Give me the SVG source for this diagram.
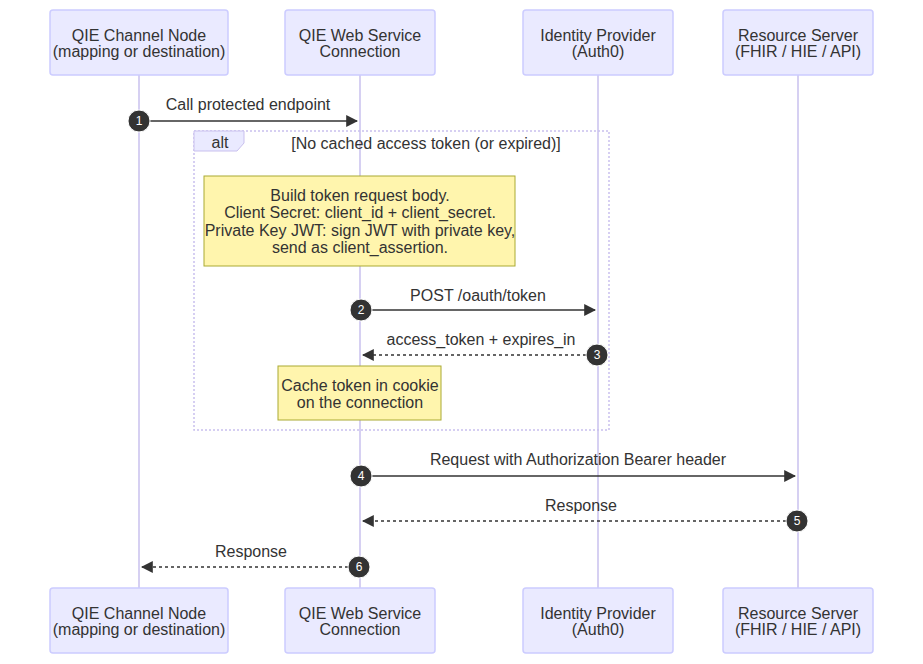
<svg xmlns="http://www.w3.org/2000/svg" width="923" height="664" viewBox="0 0 923 664">
<defs>
<style>
text{font-family:"Liberation Sans",Arial,sans-serif;font-size:16px;fill:#333;text-anchor:middle}
.actor{fill:#eaeaff;stroke:#ccccff;stroke-width:1.5}
.life{stroke:#c9c0ee;stroke-width:1.5}
.msg{stroke:#333;stroke-width:1.5;fill:none}
.dash{stroke-dasharray:3,3}
.note{fill:#fff5ad;stroke:#aaaa33;stroke-width:1}
.num{fill:#333;stroke:#fff;stroke-width:1}
.numt{fill:#fff;font-size:12px}
</style>
<marker id="ah" viewBox="0 0 10 10" refX="9" refY="5" markerWidth="8" markerHeight="8" orient="auto"><path d="M0,0L10,5L0,10z" fill="#333"/></marker>
</defs>
<rect width="923" height="664" fill="#fff"/>
<g id="lifelines">
<line class="life" x1="139" y1="75" x2="139" y2="588"/>
<line class="life" x1="360" y1="75" x2="360" y2="588"/>
<line class="life" x1="598" y1="75" x2="598" y2="588"/>
<line class="life" x1="798" y1="75" x2="798" y2="588"/>
</g>
<g id="actor-qie-top"><rect class="actor" x="50" y="10" width="178" height="65" rx="3"/><text x="139" y="41">QIE Channel Node</text><text x="139" y="57">(mapping or destination)</text></g>
<g id="actor-ws-top"><rect class="actor" x="285" y="10" width="150" height="65" rx="3"/><text x="360" y="41">QIE Web Service</text><text x="360" y="57">Connection</text></g>
<g id="actor-idp-top"><rect class="actor" x="523" y="10" width="150" height="65" rx="3"/><text x="598" y="41">Identity Provider</text><text x="598" y="57">(Auth0)</text></g>
<g id="actor-rs-top"><rect class="actor" x="723" y="10" width="150" height="65" rx="3"/><text x="798" y="41">Resource Server</text><text x="798" y="57">(FHIR / HIE / API)</text></g>
<g id="actor-qie-bottom"><rect class="actor" x="50" y="588" width="178" height="65" rx="3"/><text x="139" y="619">QIE Channel Node</text><text x="139" y="635">(mapping or destination)</text></g>
<g id="actor-ws-bottom"><rect class="actor" x="285" y="588" width="150" height="65" rx="3"/><text x="360" y="619">QIE Web Service</text><text x="360" y="635">Connection</text></g>
<g id="actor-idp-bottom"><rect class="actor" x="523" y="588" width="150" height="65" rx="3"/><text x="598" y="619">Identity Provider</text><text x="598" y="635">(Auth0)</text></g>
<g id="actor-rs-bottom"><rect class="actor" x="723" y="588" width="150" height="65" rx="3"/><text x="798" y="619">Resource Server</text><text x="798" y="635">(FHIR / HIE / API)</text></g>
<g id="alt">
<rect x="194" y="131" width="415" height="299" fill="none" stroke="#c9c0ee" stroke-width="1.5" stroke-dasharray="2,2"/>
<path d="M194,131H244V143L237,151H194z" fill="#eaeaff" stroke="#c9c0ee"/>
<text x="220" y="148">alt</text>
<text x="426" y="149">[No cached access token (or expired)]</text>
</g>
<g id="note1"><rect class="note" x="204" y="176" width="311" height="90"/>
<text x="360" y="201">Build token request body.</text><text x="360" y="218">Client Secret: client_id + client_secret.</text><text x="360" y="236">Private Key JWT: sign JWT with private key,</text><text x="360" y="253">send as client_assertion.</text></g>
<g id="note2"><rect class="note" x="278" y="366" width="163" height="54"/>
<text x="360" y="391">Cache token in cookie</text><text x="360" y="408">on the connection</text></g>
<g id="connectors">
<line class="msg" x1="139" y1="121" x2="357" y2="121" marker-end="url(#ah)"/>
<text x="248" y="110">Call protected endpoint</text>
<line class="msg" x1="360" y1="310" x2="595" y2="310" marker-end="url(#ah)"/>
<text x="478" y="301">POST /oauth/token</text>
<line class="msg dash" x1="598" y1="355" x2="363" y2="355" marker-end="url(#ah)"/>
<text x="481" y="345">access_token + expires_in</text>
<line class="msg" x1="360" y1="476" x2="795" y2="476" marker-end="url(#ah)"/>
<text x="578" y="465">Request with Authorization Bearer header</text>
<line class="msg dash" x1="798" y1="521" x2="363" y2="521" marker-end="url(#ah)"/>
<text x="581" y="511">Response</text>
<line class="msg dash" x1="360" y1="567" x2="142" y2="567" marker-end="url(#ah)"/>
<text x="251" y="557">Response</text>
</g>
<g id="numbers">
<circle class="num" cx="139" cy="121" r="11"/><text class="numt" x="139" y="125">1</text>
<circle class="num" cx="361" cy="310" r="11"/><text class="numt" x="361" y="314">2</text>
<circle class="num" cx="597" cy="355" r="11"/><text class="numt" x="597" y="359">3</text>
<circle class="num" cx="361" cy="476" r="11"/><text class="numt" x="361" y="480">4</text>
<circle class="num" cx="797" cy="521" r="11"/><text class="numt" x="797" y="525">5</text>
<circle class="num" cx="359" cy="567" r="11"/><text class="numt" x="359" y="571">6</text>
</g>
</svg>
